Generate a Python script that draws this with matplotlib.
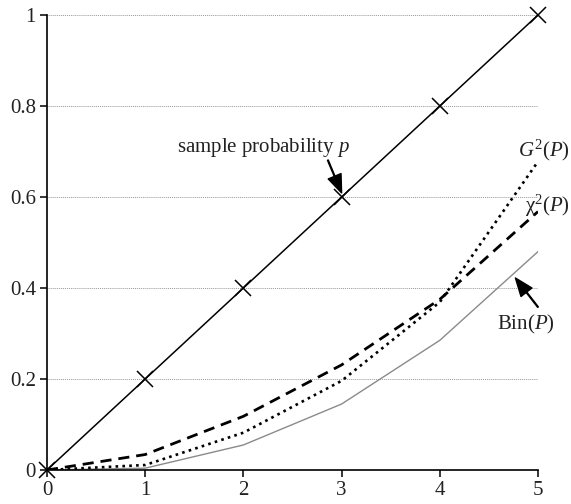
import numpy as np
import matplotlib
matplotlib.use("Agg")
import matplotlib.pyplot as plt

plt.rcParams['font.family'] = ['Liberation Serif', 'DejaVu Serif']
plt.rcParams['mathtext.fontset'] = 'custom'
plt.rcParams['mathtext.rm'] = 'Liberation Serif'
plt.rcParams['mathtext.it'] = 'Liberation Serif:italic'

# data
x = [0, 1, 2, 3, 4, 5]
p_sample = [0, 0.2, 0.4, 0.6, 0.8, 1.0]
g2 = [0, 0.011, 0.082, 0.196, 0.369, 0.678]
chi2 = [0, 0.034, 0.118, 0.231, 0.375, 0.568]
binom = [0, 0.004, 0.055, 0.145, 0.285, 0.48]

xticks = [0, 1, 2, 3, 4, 5]
yticks = [0, 0.2, 0.4, 0.6, 0.8, 1.0]
ytick_labels = ['0', '0.2', '0.4', '0.6', '0.8', '1']

fig = plt.figure(figsize=(5.71, 5.04), dpi=100)
ax = fig.add_axes([47 / 571, 34 / 504, 491 / 571, 455 / 504])

# dotted grid
for yv in yticks[1:]:
    ax.axhline(yv, color='#999999', lw=0.7, ls=(0, (1, 1)), zorder=0)

ax.plot(x, binom, color='#8a8a8a', lw=1.0, zorder=2)
ax.plot(x, chi2, color='black', lw=2.0, ls=(0, (4, 2.5)), zorder=3)
ax.plot(x, g2, color='black', lw=1.9, ls=(0, (1, 1.6)), zorder=3)
ax.plot(x, p_sample, color='black', lw=1.1, marker='x', ms=11,
        mew=1.1, zorder=4, clip_on=False)

ax.set_xlim(0, 5)
ax.set_ylim(0, 1)
ax.set_xticks(xticks)
ax.set_yticks(yticks)
ax.set_yticklabels(ytick_labels)
for s in ['top', 'right']:
    ax.spines[s].set_visible(False)
for s in ['left', 'bottom']:
    ax.spines[s].set_linewidth(1.2)
ax.tick_params(direction='out', length=5, width=1.1, labelsize=15,
               labelcolor='#222222', pad=3)

txt = dict(fontsize=15, color='#222222', ha='center', va='center')
arrow = dict(facecolor='black', edgecolor='black', width=0.6,
             headwidth=10, headlength=13, shrink=0)

ax.text(2.2, 0.708, 'sample probability $p$', **txt)
ax.annotate('', xy=(3.0, 0.609), xytext=(2.86, 0.681), arrowprops=arrow)

ax.text(4.88, 0.319, 'Bin($P$)', clip_on=False, **txt)
ax.annotate('', xy=(4.77, 0.422), xytext=(5.0, 0.358), arrowprops=arrow,
            annotation_clip=False)

ax.text(5.33, 0.703, '$G^2$($P$)', ha='right', va='center', fontsize=15,
        color='#222222', clip_on=False)
ax.text(5.33, 0.58, 'χ$^2$($P$)', ha='right', va='center', fontsize=15,
        color='#222222', clip_on=False)

fig.savefig('out.png', dpi=100)
